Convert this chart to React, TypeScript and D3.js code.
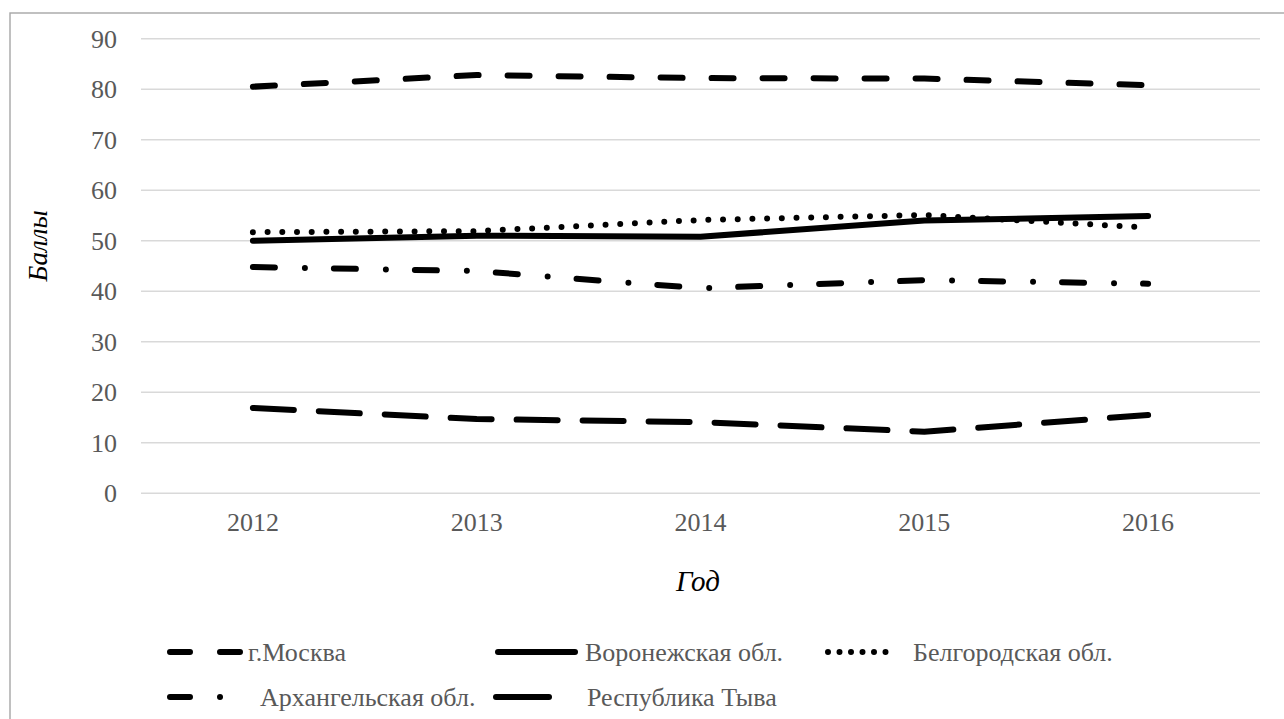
import React from 'react';
import * as d3 from 'd3';

const years = ['2012', '2013', '2014', '2015', '2016'];
const yTicks = [0, 10, 20, 30, 40, 50, 60, 70, 80, 90];

const moscow = [80.5, 82.8, 82.2, 82.1, 80.8];
const voronezh = [50.0, 51.0, 50.8, 54.0, 54.9];
const belgorod = [51.7, 51.9, 54.1, 55.1, 52.6];
const arkhangelsk = [44.8, 44.0, 40.6, 42.2, 41.5];
const tyva = [16.9, 14.7, 14.1, 12.2, 15.5];

const series = [
  { name: 'г.Москва', values: moscow, dash: '22,29', legendDash: '20,30' },
  { name: 'Воронежская обл.', values: voronezh, dash: null, legendDash: null },
  { name: 'Белгородская обл.', values: belgorod, dash: '0,14.7', legendDash: '0,11.5' },
  { name: 'Архангельская обл.', values: arkhangelsk, dash: '22,30,0,29', legendDash: '20,30,0.01,100' },
  { name: 'Республика Тыва', values: tyva, dash: '41,25', legendDash: null },
];

// legend layout: [symbol x1, symbol x2, text x, row y]
const legendLayout = [
  [170, 242, 248, 652],
  [498, 575, 585, 652],
  [828, 897, 913, 652],
  [170, 224, 260, 697],
  [496, 549, 587, 697],
];

const W = 1284;
const H = 719;
const FONT = '"Liberation Serif", "Times New Roman", serif';

export default function App() {
  const x = d3.scaleBand<string>().domain(years).range([141, 1260]);
  const y = d3.scaleLinear().domain([0, 90]).range([493.3, 38.7]);
  const cx = (d: string) => (x(d) ?? 0) + x.bandwidth() / 2;

  const line = d3
    .line<number>()
    .x((_, i) => cx(years[i]))
    .y((d) => y(d));

  return (
    <svg
      width={W}
      height={H}
      style={{ position: 'absolute', left: 0, top: 0, background: '#fff', fontFamily: FONT }}
    >
      <rect x={10} y={13} width={W + 20} height={H + 20} fill="#fff" stroke="#a6a6a6" strokeWidth={1.4} />

      {/* gridlines + y ticks */}
      {yTicks.map((t) => (
        <g key={t}>
          <line x1={141} x2={1260} y1={y(t)} y2={y(t)} stroke="#d9d9d9" strokeWidth={1.4} />
          <text x={117} y={y(t)} dy="0.35em" textAnchor="end" fontSize={26} fill="#595959">
            {t}
          </text>
        </g>
      ))}

      {/* x tick labels */}
      {years.map((yr) => (
        <text key={yr} x={cx(yr)} y={531} textAnchor="middle" fontSize={26} fill="#595959">
          {yr}
        </text>
      ))}

      {/* axis titles */}
      <text
        transform={`translate(47,${y(49)}) rotate(-90)`}
        textAnchor="middle"
        fontSize={27}
        fontStyle="italic"
        fill="#000"
      >
        Баллы
      </text>
      <text x={698} y={591} textAnchor="middle" fontSize={29} fontStyle="italic" fill="#000">
        Год
      </text>

      {/* series */}
      {series.map((s) => (
        <path
          key={s.name}
          d={line(s.values) ?? ''}
          fill="none"
          stroke="#000"
          strokeWidth={6}
          strokeLinecap="round"
          strokeLinejoin="round"
          strokeDasharray={s.dash ?? undefined}
        />
      ))}

      {/* legend */}
      {series.map((s, i) => {
        const [x1, x2, tx, ly] = legendLayout[i];
        return (
          <g key={s.name}>
            <line
              x1={x1}
              x2={x2}
              y1={ly}
              y2={ly}
              stroke="#000"
              strokeWidth={6}
              strokeLinecap="round"
              strokeDasharray={s.legendDash ?? undefined}
            />
            <text x={tx} y={ly} dy="0.33em" fontSize={26} fill="#595959">
              {s.name}
            </text>
          </g>
        );
      })}
    </svg>
  );
}
